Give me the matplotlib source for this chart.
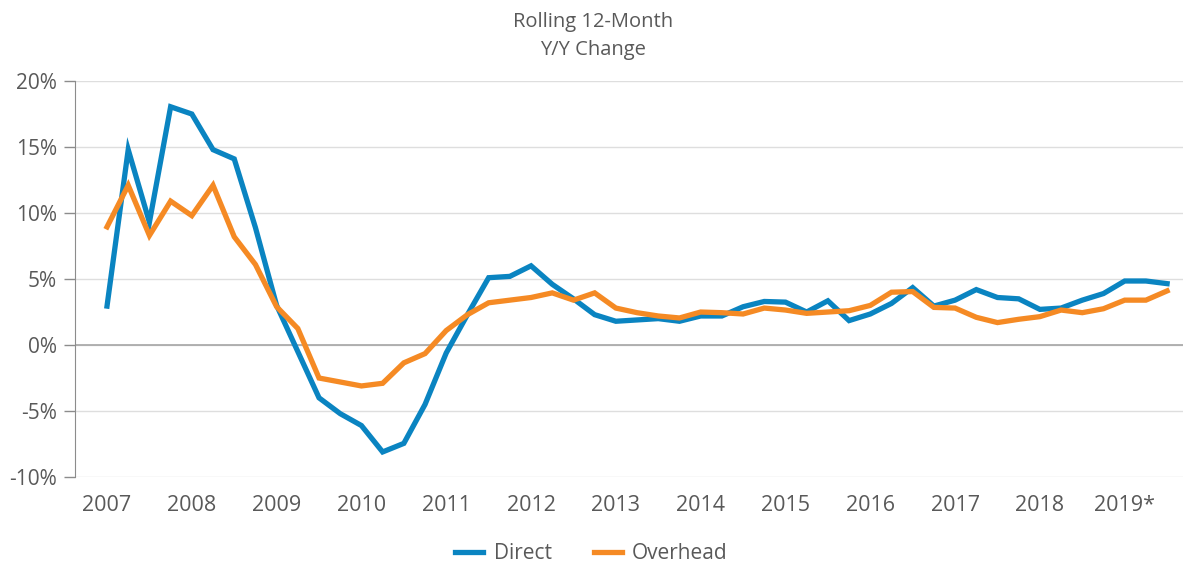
import numpy as np
import matplotlib.pyplot as plt
from matplotlib.ticker import FuncFormatter

# quarterly rolling 12-month y/y change, 2007 Q1 .. 2019 Q3
years = ["2007", "2008", "2009", "2010", "2011", "2012", "2013",
         "2014", "2015", "2016", "2017", "2018", "2019*"]

direct = [2.95, 14.8, 9.3, 18.05, 17.5, 14.8, 14.1, 8.9,
          3.0, -0.5, -4.0, -5.2, -6.1, -8.1, -7.45, -4.5,
          -0.6, 2.3, 5.1, 5.2, 6.0, 4.6, 3.5, 2.3,
          1.8, 1.9, 2.0, 1.8, 2.2, 2.2, 2.9, 3.3,
          3.25, 2.5, 3.35, 1.85, 2.35, 3.15, 4.35, 2.95,
          3.4, 4.2, 3.6, 3.5, 2.7, 2.8, 3.4, 3.9,
          4.85, 4.85, 4.65]

overhead = [8.95, 12.1, 8.3, 10.9, 9.8, 12.1, 8.2, 6.1,
            2.9, 1.25, -2.5, -2.8, -3.1, -2.9, -1.35, -0.65,
            1.1, 2.3, 3.2, 3.4, 3.6, 3.95, 3.4, 3.95,
            2.8, 2.45, 2.2, 2.05, 2.5, 2.45, 2.35, 2.8,
            2.65, 2.4, 2.5, 2.6, 3.0, 4.0, 4.05, 2.85,
            2.8, 2.1, 1.7, 1.95, 2.15, 2.65, 2.45, 2.75,
            3.4, 3.4, 4.1]

blue = "#0a84c1"
orange = "#f58a24"
grey = "#595959"

plt.rcParams['font.family'] = ['Open Sans', 'DejaVu Sans']

fig = plt.figure(figsize=(11.83, 5.63), dpi=100)
ax = fig.add_axes([0.0634, 0.1527, 0.9366, 0.7034])

x = np.arange(len(direct))
ax.plot(x, direct, color=blue, lw=3.8, label="Direct", solid_joinstyle='miter')
ax.plot(x, overhead, color=orange, lw=3.8, label="Overhead", solid_joinstyle='miter')

ax.set_ylim(-10, 20)
ax.set_yticks(np.arange(-10, 21, 5))
ax.yaxis.set_major_formatter(FuncFormatter(lambda v, p: f"{v:.0f}%"))
ax.set_xlim(-1.51, 50.75)
ax.set_xticks(np.arange(len(years)) * 4)
ax.set_xticklabels(years)

ax.grid(axis='y', color="#dedede", lw=1)
ax.axhline(0, color="#a6a6a6", lw=1.2, zorder=1)
ax.set_axisbelow(True)

for s in ['top', 'right', 'bottom']:
    ax.spines[s].set_visible(False)
ax.spines['left'].set_color("#8c8c8c")
ax.tick_params(axis='y', colors="#8c8c8c", labelcolor=grey, labelsize=15,
               length=8, width=1, pad=5)
ax.tick_params(axis='x', length=0, labelcolor=grey, labelsize=15.5, pad=13)

fig.text(0.501, 0.978, "Rolling 12-Month\nY/Y Change", ha='center', va='top',
         fontsize=14.5, color=grey, linespacing=1.5)

fig.legend(loc='center', bbox_to_anchor=(0.5, 0.016), ncol=2, frameon=False,
           fontsize=15, labelcolor=grey, handlelength=1.35, columnspacing=2.0,
           handletextpad=0.5, borderaxespad=0)

fig.savefig("out.png", dpi=100)
